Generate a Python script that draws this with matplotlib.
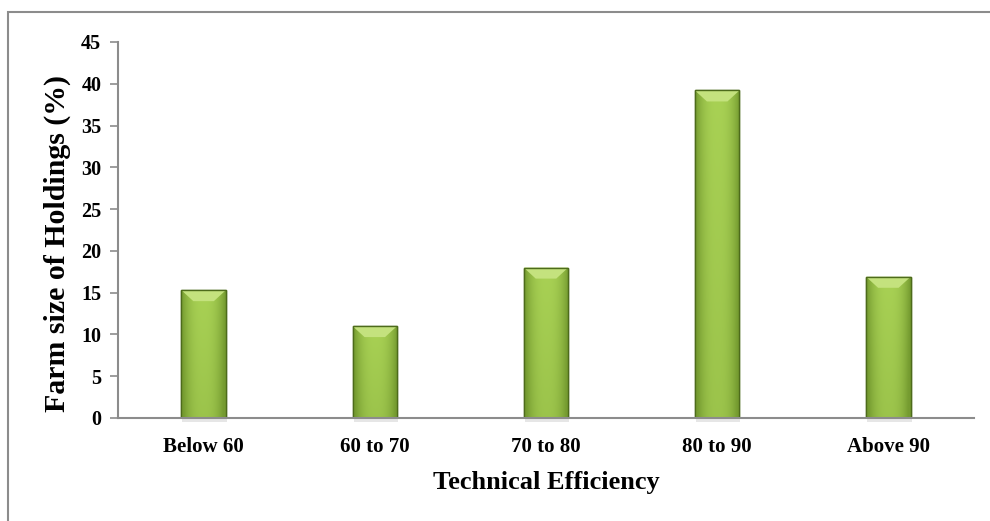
import numpy as np
import matplotlib.pyplot as plt
from matplotlib.patches import Rectangle, Polygon

# data
categories = ['Below 60', '60 to 70', '70 to 80', '80 to 90', 'Above 90']
holdings = [15.3, 11.0, 18.0, 39.2, 16.9]
y_ticks = [0, 5, 10, 15, 20, 25, 30, 35, 40, 45]

plt.rcParams['font.family'] = ['Liberation Serif', 'DejaVu Serif']
plt.rcParams['font.weight'] = 'bold'

fig = plt.figure(figsize=(9.9, 5.21), dpi=100)
ax = fig.add_axes([0.1192, 0.1977, 0.8646, 0.7217])

# grey frame around the chart area (runs off the right and bottom edge)
fig.patches.append(Rectangle((8 / 990, -0.2), 2.0, 1 - 12 / 521 + 0.2,
                             transform=fig.transFigure, fill=False,
                             edgecolor='#8c8c8c', linewidth=1.5))

x = np.arange(len(categories))
bar_w = 0.26
bars = ax.bar(x, holdings, width=bar_w, color='#9bc24a',
              edgecolor='#4d6b1b', linewidth=1.0, zorder=3)

ax.set_xlim(-0.5, len(categories) - 0.5)
ax.set_ylim(0, 45)

# shading for the bars: darker sides, lighter middle
cols = np.linspace(0, 1, 40)
rows = np.linspace(0, 1, 80)
light = np.array([0.66, 0.82, 0.33])
dark = np.array([0.46, 0.61, 0.19])
hprof = np.abs(2 * cols - 1) ** 2.5
vprof = 0.25 * rows
shade = np.clip(hprof[None, :] + vprof[:, None], 0, 1)
img = light[None, None, :] * (1 - shade[..., None]) + dark[None, None, :] * shade[..., None]

# bevel size in data units (in px)
px_x = 1.0 / (ax.get_window_extent().width / (len(categories)))
px_y = 45.0 / ax.get_window_extent().height
for b in bars:
    x0, w, h = b.get_x(), b.get_width(), b.get_height()
    # soft shadow under the bar
    ax.add_patch(Rectangle((x0 + 1 * px_x, -4 * px_y), w, 4 * px_y, facecolor='#e6e6e6',
                           edgecolor='none', zorder=2.5, clip_on=False))
    im = ax.imshow(img, extent=[x0, x0 + w, 0, h], aspect='auto',
                   origin='upper', zorder=3.5, interpolation='bicubic')
    im.set_clip_path(b)
    dx, dy = 12 * px_x, 11 * px_y
    ax.add_patch(Polygon([(x0, h), (x0 + w, h), (x0 + w - dx, h - dy), (x0 + dx, h - dy)],
                         closed=True, facecolor='#c4e27e', edgecolor='none', zorder=3.6))
    ax.add_patch(Rectangle((x0, 0), w, h, fill=False, edgecolor='#4d6b1b',
                           linewidth=1.0, zorder=3.7))

ax.set_xlim(-0.5, len(categories) - 0.5)
ax.set_ylim(0, 45)

ax.set_xticks(x)
ax.set_xticklabels(categories, fontsize=15, fontweight='bold')
ax.set_yticks(y_ticks)
ax.set_yticklabels([str(t) for t in y_ticks], fontsize=14.5, fontweight='bold')
ax.tick_params(axis='x', length=0, pad=14)
ax.tick_params(axis='y', direction='out', length=6, width=1.2, color='#8c8c8c', pad=6)

for side in ['top', 'right']:
    ax.spines[side].set_visible(False)
for side in ['left', 'bottom']:
    ax.spines[side].set_color('#8c8c8c')
    ax.spines[side].set_linewidth(1.5)
ax.spines['bottom'].set_zorder(4)

ax.set_xlabel('Technical Efficiency', fontsize=19, fontweight='bold', labelpad=10)
ax.set_ylabel('Farm size of Holdings (%)', fontsize=21.5, fontweight='bold',
              va='center')
ax.yaxis.set_label_coords(-0.071, 0.465)

fig.savefig('out.png', dpi=100)
